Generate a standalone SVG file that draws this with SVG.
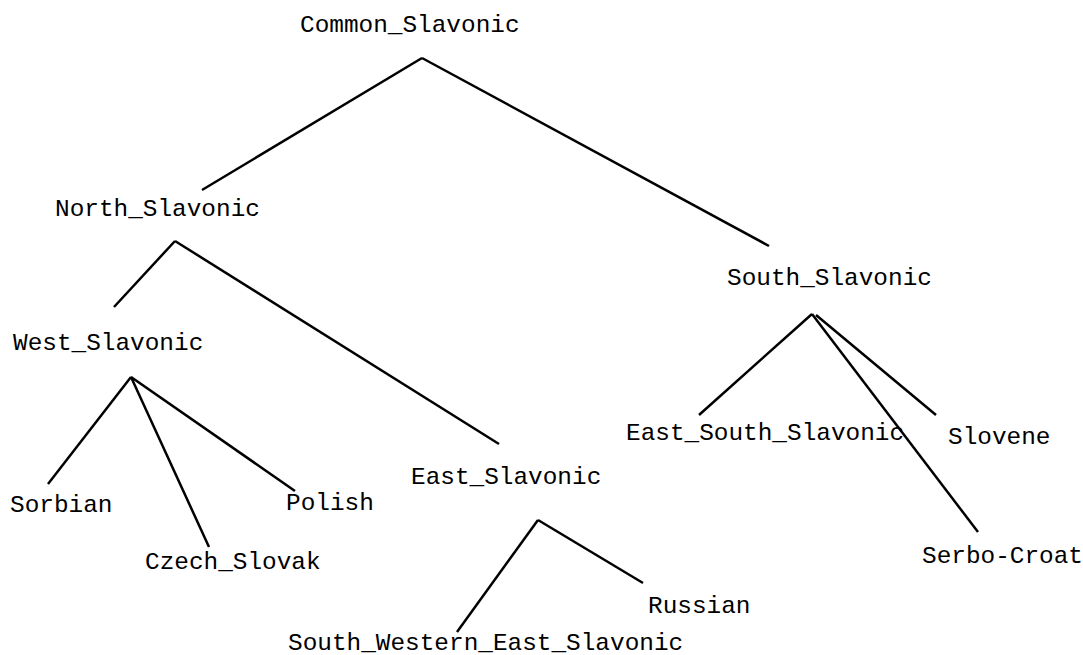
<svg xmlns="http://www.w3.org/2000/svg" width="1083" height="655" viewBox="0 0 1083 655">
<style>
text{font-family:"Liberation Mono","Courier New",monospace;font-size:24.4px;fill:#000}
line{stroke:#000;stroke-width:2.5;stroke-linecap:butt}
</style>
<rect width="1083" height="655" fill="#fff"/>
<g id="connectors">
<line x1="422" y1="58" x2="202" y2="190"/>
<line x1="422" y1="58" x2="769" y2="246"/>
<line x1="175" y1="241" x2="114" y2="307"/>
<line x1="175" y1="241" x2="499" y2="444"/>
<line x1="131" y1="377" x2="48" y2="484"/>
<line x1="131" y1="377" x2="209" y2="547"/>
<line x1="131" y1="377" x2="295" y2="491"/>
<line x1="538" y1="520" x2="457" y2="632"/>
<line x1="538" y1="520" x2="643" y2="583"/>
<line x1="812" y1="314" x2="699" y2="415"/>
<line x1="812" y1="314" x2="978" y2="532"/>
<line x1="816" y1="315" x2="936" y2="415"/>
</g>
<g id="n-common"><text x="300" y="32">Common_Slavonic</text></g>
<g id="n-north"><text x="55" y="216">North_Slavonic</text></g>
<g id="n-south"><text x="727" y="285">South_Slavonic</text></g>
<g id="n-west"><text x="13" y="350">West_Slavonic</text></g>
<g id="n-east"><text x="411" y="484">East_Slavonic</text></g>
<g id="n-eastsouth"><text x="626" y="440">East_South_Slavonic</text></g>
<g id="n-slovene"><text x="948" y="444">Slovene</text></g>
<g id="n-sorbian"><text x="10" y="512">Sorbian</text></g>
<g id="n-polish"><text x="286" y="510">Polish</text></g>
<g id="n-czech"><text x="145" y="569">Czech_Slovak</text></g>
<g id="n-serbo"><text x="922" y="563">Serbo-Croat</text></g>
<g id="n-russian"><text x="648" y="613">Russian</text></g>
<g id="n-swes"><text x="288" y="650">South_Western_East_Slavonic</text></g>
</svg>
